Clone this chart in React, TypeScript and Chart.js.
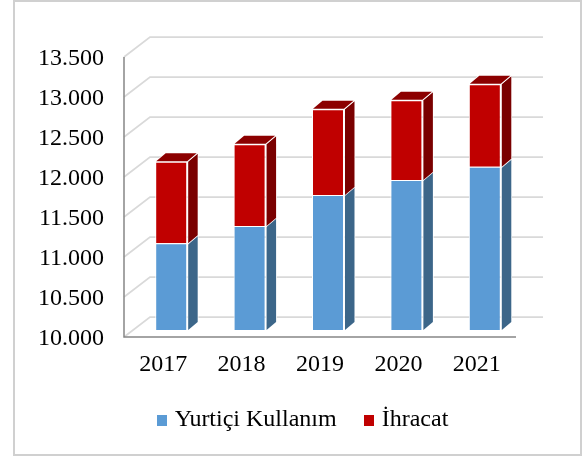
import React, { useEffect, useRef } from "react";
import { Chart, registerables } from "chart.js";

Chart.register(...registerables);

const years = ["2017", "2018", "2019", "2020", "2021"];
const yurtici = [11083, 11300, 11688, 11876, 12040];
const ihracat = [1020, 1022, 1070, 995, 1033];

const FONT = "'Liberation Serif', 'Times New Roman', serif";
const BLUE = "#5B9BD5";
const RED = "#C00000";
const SIDES = ["#3C6689", "#7A0000"];
const TOP_RED = "#8C0000";
const SHIFT_X = 8;
const SHIFT_Y = -7;
const BACK_X = 26;
const BACK_Y = -20;
const GRID_END = 543;
const DEPTH_X = 9.5;
const DEPTH_Y = -8;
const LEGEND_SHIFT = 47;
const Y_LABEL_DROP = 2;

function swatch(color: string) {
  const c = document.createElement("canvas");
  c.width = 10;
  c.height = 11;
  const g = c.getContext("2d")!;
  g.fillStyle = color;
  g.fillRect(0, 0, 10, 11);
  return c;
}

const box3d = {
  id: "box3d",
  afterLayout(chart: any) {
    chart.legend.left += LEGEND_SHIFT;
    chart.legend.right += LEGEND_SHIFT;
    const y = chart.scales.y;
    const drawLabels = y.drawLabels;
    y.drawLabels = function (area: any) {
      chart.ctx.save();
      chart.ctx.translate(0, Y_LABEL_DROP);
      drawLabels.call(this, area);
      chart.ctx.restore();
    };
  },
  beforeDraw(chart: any) {
    const { ctx } = chart;
    ctx.save();
    ctx.strokeStyle = "#D0D0D0";
    ctx.lineWidth = 2;
    ctx.strokeRect(14, 1, 567, 454);
    ctx.restore();
  },
  beforeDatasetsDraw(chart: any) {
    const { ctx, chartArea, scales } = chart;
    const y = scales.y;
    const left = chartArea.left;
    ctx.save();
    ctx.strokeStyle = "#D9D9D9";
    ctx.lineWidth = 1.75;
    y.ticks.forEach((t: any) => {
      const py = y.getPixelForValue(t.value);
      ctx.beginPath();
      ctx.moveTo(left, py);
      ctx.lineTo(left + BACK_X, py + BACK_Y);
      ctx.lineTo(GRID_END, py + BACK_Y);
      ctx.stroke();
    });
    ctx.strokeStyle = "#868686";
    ctx.lineWidth = 1.5;
    ctx.beginPath();
    ctx.moveTo(left, chartArea.top);
    ctx.lineTo(left, chartArea.bottom);
    ctx.lineTo(chartArea.right, chartArea.bottom);
    ctx.stroke();

    const poly = (pts: number[][], fill: string) => {
      ctx.beginPath();
      pts.forEach((p, i) => (i ? ctx.lineTo(p[0], p[1]) : ctx.moveTo(p[0], p[1])));
      ctx.closePath();
      ctx.fillStyle = fill;
      ctx.strokeStyle = "#FFFFFF";
      ctx.lineWidth = 1.5;
      ctx.stroke();
      ctx.fill();
    };
    chart.data.datasets.forEach((_: any, di: number) => {
      chart.getDatasetMeta(di).data.forEach((el: any) => {
        const p = el.getProps(["x", "y", "base", "width"], true);
        const r = p.x + p.width / 2 + SHIFT_X + 1;
        const l = p.x - p.width / 2 + SHIFT_X;
        const top = p.y + SHIFT_Y;
        const bot = Math.min(p.base, chartArea.bottom) + SHIFT_Y;
        poly(
          [
            [r, top],
            [r + DEPTH_X, top + DEPTH_Y],
            [r + DEPTH_X, bot + DEPTH_Y],
            [r, bot],
          ],
          SIDES[di],
        );
        if (di === chart.data.datasets.length - 1) {
          poly(
            [
              [l + 1, top - 0.5],
              [l + 1 + DEPTH_X, top + DEPTH_Y - 0.5],
              [r + DEPTH_X - 1, top + DEPTH_Y - 0.5],
              [r - 1, top - 0.5],
            ],
            TOP_RED,
          );
        }
      });
    });
    ctx.restore();
    ctx.save();
    ctx.translate(SHIFT_X, SHIFT_Y);
  },
  afterDatasetsDraw(chart: any) {
    chart.ctx.restore();
  },
};

export default function App() {
  const ref = useRef<HTMLCanvasElement>(null);
  useEffect(() => {
    const colors = [BLUE, RED];
    const chart = new Chart(ref.current!, {
      type: "bar",
      data: {
        labels: years,
        datasets: [
          { label: "Yurtiçi Kullanım", data: yurtici, backgroundColor: BLUE, borderColor: "#FFFFFF", borderWidth: 1 },
          { label: "İhracat", data: ihracat, backgroundColor: RED, borderColor: "#FFFFFF", borderWidth: 1 },
        ],
      },
      options: {
        responsive: false,
        animation: false,
        layout: { padding: { left: 0, right: 68, top: 57, bottom: 14 } },
        datasets: { bar: { categoryPercentage: 1, barPercentage: 0.408 } },
        plugins: {
          tooltip: { enabled: false },
          legend: {
            position: "bottom",
            labels: {
              usePointStyle: true,
              boxWidth: 1,
              boxHeight: 11,
              padding: 32,
              color: "#000000",
              font: { family: FONT, size: 24 },
              generateLabels: (c: any) =>
                c.data.datasets.map((d: any, i: number) => ({
                  text: d.label,
                  fillStyle: colors[i],
                  strokeStyle: colors[i],
                  lineWidth: 0,
                  pointStyle: swatch(colors[i]),
                  datasetIndex: i,
                  fontColor: "#000000",
                })),
            },
          },
        },
        scales: {
          x: {
            stacked: true,
            afterFit: (s: any) => {
              s.height = 39;
            },
            grid: { display: false, drawTicks: false },
            border: { display: false },
            ticks: { color: "#000000", padding: 13, font: { family: FONT, size: 24 }, maxRotation: 0 },
          },
          y: {
            stacked: true,
            min: 10000,
            max: 13500,
            afterFit: (s: any) => {
              s.width = 124;
            },
            grid: { display: false, drawTicks: false },
            border: { display: false },
            ticks: {
              stepSize: 500,
              autoSkip: false,
              color: "#000000",
              padding: 20,
              font: { family: FONT, size: 24 },
              callback: (v: any) => String(v).replace(/(\d+)(\d{3})$/, "$1.$2"),
            },
          },
        },
      },
      plugins: [box3d],
    } as any);
    return () => chart.destroy();
  }, []);
  return (
    <div style={{ position: "fixed", left: 0, top: 0, width: 584, height: 456, background: "#fff" }}>
      <canvas ref={ref} width={584} height={456} style={{ display: "block" }} />
    </div>
  );
}
